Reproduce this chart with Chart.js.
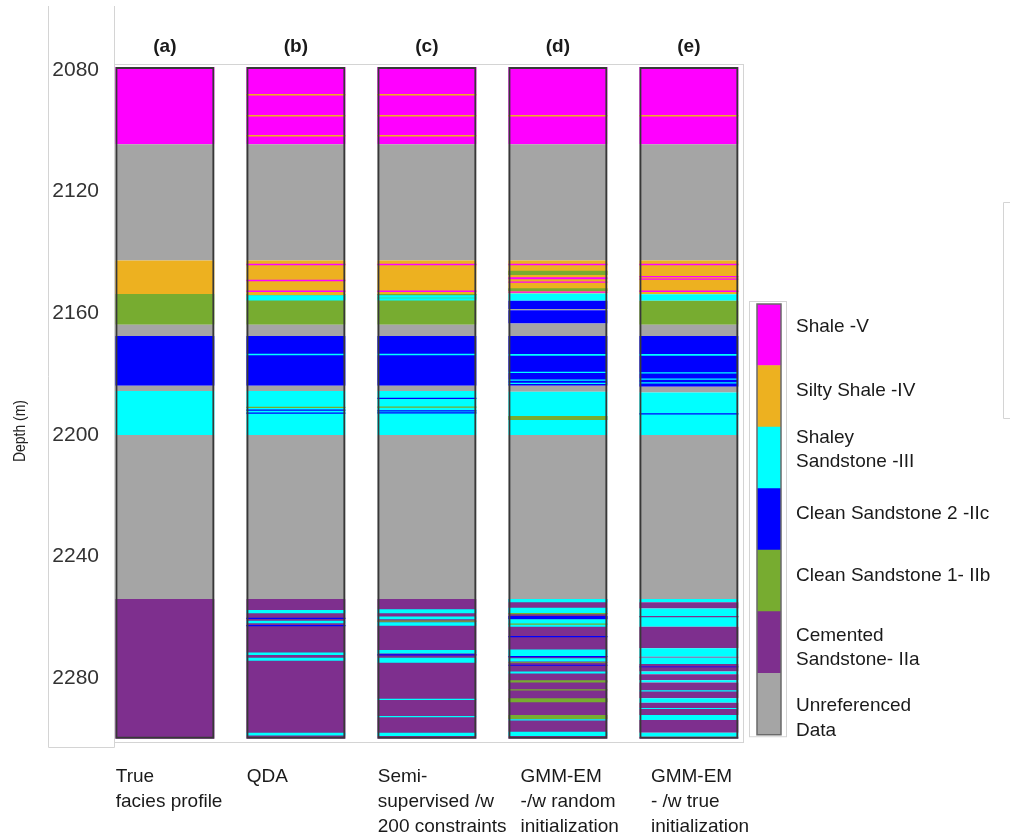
<!DOCTYPE html>
<html>
<head>
<meta charset="utf-8">
<title>Facies profiles</title>
<script src="https://cdn.jsdelivr.net/npm/chart.js@4.4.1/dist/chart.umd.min.js"></script>
<style>
  html, body { margin: 0; padding: 0; background: #fff; }
  #wrap   { position: relative; width: 1010px; height: 837px; }
  #logs   { position: absolute; left: 0; top: 0; }
  #legend { position: absolute; left: 740px; top: 190px; }
</style>
</head>
<body>
<div id="wrap">
  <canvas id="logs" width="1010" height="837"></canvas>
  <canvas id="legend" width="270" height="572"></canvas>
</div>
<script>
// Facies classes (top of the colour bar first)
const faciesCodes  = ['V', 'IV', 'III', 'IIc', 'IIb', 'IIa', 'U'];
const faciesNames  = ['Shale -V', 'Silty Shale -IV', ['Shaley', 'Sandstone -III'],
                      'Clean Sandstone 2 -IIc', 'Clean Sandstone 1- IIb',
                      ['Cemented', 'Sandstone- IIa'], ['Unreferenced', 'Data']];
const faciesColors = ['#ff00ff', '#edb120', '#00ffff', '#0000ff', '#77ac30', '#7e2f8e', '#a5a5a5'];

const panelTags  = ['(a)', '(b)', '(c)', '(d)', '(e)'];
const panelNames = [['True', 'facies profile'], ['QDA'], ['Semi-', 'supervised /w', '200 constraints'],
                    ['GMM-EM', '-/w random', 'initialization'], ['GMM-EM', '- /w true', 'initialization']];
const depthTicks = [2080, 2120, 2160, 2200, 2240, 2280];
const logTop     = 2079.0;
const logBottom  = 2300.0;

// Intervals: [top depth, bottom depth, facies]; later rows are drawn over earlier ones
const profileTrue = [
  [2079.0, 2104.4, 'V'],  [2104.4, 2142.7, 'U'],   [2142.7, 2153.7, 'IV'], [2153.7, 2163.8, 'IIb'],
  [2163.8, 2167.5, 'U'],  [2167.5, 2183.9, 'IIc'], [2183.9, 2185.6, 'U'],  [2185.6, 2200.1, 'III'],
  [2200.1, 2254.0, 'U'],  [2254.0, 2300.0, 'IIa']
];

const profileQDA = [
  ...profileTrue,
  [2087.9, 2088.4, 'IV'], [2094.8, 2095.3, 'IV'], [2101.4, 2101.9, 'IV'],
  [2143.7, 2144.2, 'V'],  [2149.0, 2149.5, 'V'],  [2152.5, 2153.0, 'V'],
  [2153.7, 2154.1, 'IV'], [2154.1, 2155.8, 'III'],
  [2173.3, 2173.8, 'III'],
  [2190.8, 2191.2, 'IIb'], [2191.7, 2192.1, 'IIc'], [2192.7, 2193.1, 'IIc'],
  [2257.6, 2258.7, 'III'], [2260.2, 2260.6, 'IIc'], [2261.2, 2262.0, 'III'], [2262.6, 2263.0, 'IIc'],
  [2271.6, 2272.4, 'III'], [2273.3, 2274.3, 'III'], [2298.0, 2298.9, 'III']
];

const profileSemi = [
  ...profileTrue,
  [2087.9, 2088.4, 'IV'], [2094.8, 2095.3, 'IV'], [2101.4, 2101.9, 'IV'],
  [2143.7, 2144.2, 'V'],  [2152.5, 2153.0, 'V'],
  [2153.7, 2154.1, 'IIb'], [2154.1, 2155.8, 'III'], [2154.9, 2155.1, 'IIb'],
  [2173.3, 2173.8, 'III'],
  [2187.8, 2188.2, 'IIc'], [2190.7, 2191.1, 'IIb'], [2191.9, 2192.3, 'IIc'], [2192.6, 2193.0, 'IIc'],
  [2257.4, 2258.7, 'III'], [2259.8, 2260.7, 'III'], [2261.1, 2261.5, 'IIb'], [2261.7, 2262.8, 'III'],
  [2270.8, 2271.9, 'III'], [2272.2, 2272.6, 'IIc'], [2273.3, 2275.0, 'III'],
  [2286.8, 2287.2, 'III'], [2292.5, 2292.9, 'III'], [2298.0, 2299.1, 'III']
];

const profileRandom = [
  [2079.0, 2104.4, 'V'],  [2104.4, 2142.7, 'U'],   [2142.7, 2153.5, 'IV'], [2153.5, 2155.9, 'III'],
  [2155.9, 2158.6, 'IIc'], [2158.6, 2159.0, 'U'],  [2159.0, 2163.4, 'IIc'], [2163.4, 2167.5, 'U'],
  [2167.5, 2183.9, 'IIc'], [2183.9, 2185.8, 'U'],  [2185.8, 2200.1, 'III'], [2200.1, 2254.0, 'U'],
  [2254.0, 2300.0, 'IIa'],
  [2094.8, 2095.3, 'IV'],
  [2143.7, 2144.2, 'V'],  [2146.0, 2147.4, 'IIb'], [2148.2, 2148.8, 'V'],  [2149.6, 2150.0, 'V'],
  [2151.8, 2152.7, 'IIb'], [2152.9, 2153.3, 'V'],
  [2173.4, 2174.0, 'III'], [2179.3, 2179.7, 'III'], [2181.8, 2182.2, 'III'], [2182.9, 2183.3, 'III'],
  [2193.8, 2195.1, 'IIb'],
  [2254.0, 2255.1, 'III'], [2256.9, 2258.6, 'III'], [2258.6, 2259.0, 'IIb'], [2259.6, 2260.7, 'IIc'],
  [2260.7, 2263.1, 'III'], [2262.1, 2262.5, 'IIb'], [2266.2, 2266.6, 'IIc'],
  [2270.6, 2272.8, 'III'], [2272.8, 2273.2, 'IIc'], [2273.5, 2274.6, 'III'], [2274.7, 2275.0, 'IIb'],
  [2275.6, 2276.0, 'IIc'], [2277.9, 2278.5, 'III'], [2280.7, 2281.5, 'IIb'], [2283.7, 2284.1, 'IIb'],
  [2286.7, 2288.0, 'IIb'], [2292.2, 2293.6, 'IIb'], [2293.6, 2294.0, 'III'], [2297.7, 2299.1, 'III']
];

const profileTrueInit = [
  [2079.0, 2104.4, 'V'],  [2104.4, 2142.7, 'U'],   [2142.7, 2153.8, 'IV'], [2153.8, 2155.9, 'III'],
  [2155.9, 2163.8, 'IIb'], [2163.8, 2167.5, 'U'],  [2167.5, 2184.2, 'IIc'], [2184.2, 2186.1, 'U'],
  [2186.1, 2200.1, 'III'], [2200.1, 2254.0, 'U'],  [2254.0, 2255.1, 'III'], [2255.1, 2257.1, 'IIa'],
  [2257.1, 2263.1, 'III'], [2263.1, 2270.2, 'IIa'], [2270.2, 2273.0, 'III'], [2273.0, 2273.3, 'IIa'],
  [2273.3, 2275.4, 'III'], [2275.4, 2277.9, 'IIa'], [2277.9, 2278.8, 'III'], [2278.8, 2280.7, 'IIa'],
  [2280.7, 2281.5, 'III'], [2281.5, 2286.7, 'IIa'], [2286.7, 2288.1, 'III'], [2288.1, 2292.2, 'IIa'],
  [2292.2, 2293.8, 'III'], [2293.8, 2298.0, 'IIa'], [2298.0, 2299.3, 'III'], [2299.3, 2300.0, 'IIa'],
  [2094.8, 2095.3, 'IV'],
  [2143.7, 2144.2, 'V'],  [2147.8, 2148.2, 'V'],  [2148.6, 2149.0, 'V'],  [2152.5, 2153.0, 'V'],
  [2173.4, 2174.0, 'III'], [2179.4, 2179.8, 'III'], [2181.5, 2181.9, 'III'], [2182.7, 2183.1, 'III'],
  [2192.9, 2193.3, 'IIc'],
  [2259.6, 2260.0, 'IIa'], [2276.2, 2276.5, 'IIc'], [2284.0, 2284.4, 'III'], [2289.9, 2290.2, 'III']
];

const columns = [profileTrue, profileQDA, profileSemi, profileRandom, profileTrueInit];

// ---- layout constants (pixels / axis units, not data) ----
const FONT      = "'Liberation Sans', Arial, sans-serif";
const xRange    = [-0.3885, 4.413];
const nameShift = [-0.375, -0.375, -0.375, -0.285, -0.29];
// where each legend label sits along the colour bar (0 = bottom, 7 = top)
const legendPos = [6.63, 5.59, 4.63, 3.59, 2.58, 1.41, 0.27];

Chart.defaults.font.family = FONT;
Chart.defaults.color = '#222';

const colorOf = code => faciesColors[faciesCodes.indexOf(code)];

const frames = {
  id: 'frames',
  beforeDraw(chart) {
    const {ctx, chartArea: a} = chart;
    ctx.save();
    ctx.strokeStyle = '#d4d4d4';
    ctx.lineWidth = 1;
    ctx.strokeRect(a.left + 0.5, a.top + 0.5, a.right - a.left, a.bottom - a.top);
    // panel that holds the depth axis
    ctx.beginPath();
    ctx.moveTo(48.5, 6); ctx.lineTo(48.5, a.bottom + 5.5);
    ctx.lineTo(a.left + 0.5, a.bottom + 5.5); ctx.lineTo(a.left + 0.5, 6);
    ctx.stroke();
    ctx.restore();
  },
  afterDraw(chart) {
    // narrow axis title, squeezed along its reading direction
    const {ctx, chartArea: a} = chart;
    ctx.save();
    ctx.translate(20, (a.top + a.bottom) / 2 + 28);
    ctx.rotate(-Math.PI / 2);
    ctx.scale(0.82, 1);
    ctx.font = '17px ' + FONT;
    ctx.fillStyle = '#222';
    ctx.textAlign = 'center';
    ctx.textBaseline = 'middle';
    ctx.fillText('Depth (m)', 0, 0);
    ctx.restore();
  }
};

const logDatasets = columns.map((col, i) => ({
  data: col.map(([top, bottom]) => ({x: i, y: [top, bottom]})),
  backgroundColor: col.map(s => colorOf(s[2])),
  borderWidth: 0,
  order: 1
}));

logDatasets.push({
  data: columns.map((_, i) => ({x: i, y: [logTop, logBottom]})),
  backgroundColor: 'rgba(0,0,0,0)',
  borderColor: '#383838',
  borderWidth: 2,
  borderSkipped: false,
  order: 0
});

const noGrid = { display: false, drawTicks: false };

new Chart(document.getElementById('logs'), {
  type: 'bar',
  data: { datasets: logDatasets },
  options: {
    responsive: false,
    animation: false,
    events: [],
    grouped: false,
    barPercentage: 0.756,
    categoryPercentage: 1,
    layout: { padding: { left: 0, top: 0, right: 267, bottom: 0 } },
    plugins: { legend: { display: false }, tooltip: { enabled: false } },
    scales: {
      x: {
        type: 'linear', position: 'top', min: xRange[0], max: xRange[1], offset: false,
        grid: noGrid, border: { display: false },
        afterBuildTicks: s => { s.ticks = panelTags.map((_, i) => ({ value: i })); },
        afterFit: s => { s.height = 64; },
        ticks: {
          autoSkip: false, maxRotation: 0, minRotation: 0, padding: 6, color: '#1a1a1a',
          font: { size: 19, weight: 'bold' },
          callback: (v, i) => panelTags[i]
        }
      },
      x2: {
        type: 'linear', position: 'bottom', min: xRange[0], max: xRange[1], offset: false,
        grid: noGrid, border: { display: false },
        afterBuildTicks: s => { s.ticks = panelNames.map((_, i) => ({ value: i + nameShift[i] })); },
        afterFit: s => { s.height = 95; },
        ticks: {
          autoSkip: false, maxRotation: 0, minRotation: 0, align: 'start', padding: 23, color: '#1a1a1a',
          font: { size: 19, lineHeight: 1.29 },
          callback: (v, i) => panelNames[i]
        }
      },
      y: {
        type: 'linear', reverse: true, min: 2078.03, max: 2301.05,
        grid: noGrid, border: { display: false },
        afterBuildTicks: s => { s.ticks = depthTicks.map(v => ({ value: v })); },
        afterFit: s => { s.width = 114; },
        ticks: { padding: 15, color: '#333', font: { size: 21 }, callback: v => String(v) }
      }
    }
  },
  plugins: [frames]
});

// ---- colour bar legend ----
const barFrame = {
  id: 'barFrame',
  afterDatasetsDraw(chart) {
    const {ctx, chartArea: a} = chart;
    ctx.save();
    ctx.strokeStyle = '#6a6a6a';
    ctx.lineWidth = 1.5;
    ctx.strokeRect(a.left, a.top, a.right - a.left, a.bottom - a.top);
    ctx.strokeStyle = '#d4d4d4';
    ctx.lineWidth = 1;
    ctx.strokeRect(a.left - 7.5, a.top - 2.5, a.right - a.left + 13, a.bottom - a.top + 4.5);
    // stray panel edge on the far right
    ctx.beginPath();
    ctx.moveTo(chart.width, 12.5); ctx.lineTo(263.5, 12.5);
    ctx.lineTo(263.5, 228.5); ctx.lineTo(chart.width, 228.5);
    ctx.stroke();
    ctx.restore();
  }
};

const legendDatasets = faciesColors.map(c => ({ data: [1], backgroundColor: c, borderWidth: 0 })).reverse();

new Chart(document.getElementById('legend'), {
  type: 'bar',
  data: { labels: ['facies'], datasets: legendDatasets },
  options: {
    responsive: false,
    animation: false,
    events: [],
    barPercentage: 1,
    categoryPercentage: 1,
    layout: { padding: { left: 17, top: 114, right: 0, bottom: 21 } },
    plugins: { legend: { display: false }, tooltip: { enabled: false } },
    scales: {
      x: { display: false, stacked: true },
      y: {
        stacked: true, position: 'right', min: 0, max: 7,
        grid: noGrid, border: { display: false },
        afterBuildTicks: s => { s.ticks = legendPos.map(v => ({ value: v })); },
        afterFit: s => { s.width = 229; },
        ticks: {
          padding: 15, color: '#1a1a1a', font: { size: 19, lineHeight: 1.29 },
          callback: (v, i) => faciesNames[i]
        }
      }
    }
  },
  plugins: [barFrame]
});
</script>
</body>
</html>
